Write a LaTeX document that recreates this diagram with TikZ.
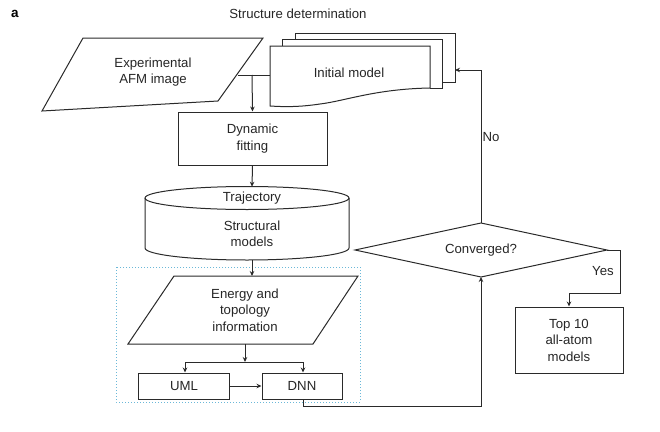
\documentclass[tikz,border=0pt]{standalone}
\usepackage{fontspec}
\setmainfont{Liberation Sans}
\usetikzlibrary{arrows.meta}
\definecolor{ln}{HTML}{2A2A2A}
\definecolor{dotblue}{HTML}{6BB8D8}
\begin{document}
\begin{tikzpicture}[x=1pt,y=-1pt,line width=1pt,
  lbl/.style={font=\fontsize{13.2}{16.5}\selectfont, align=center, text=black!85, inner sep=0pt},
  ln/.style={draw=ln, line width=1pt},
  arr/.style={ln, -{Stealth[length=5pt,width=4.5pt]}},
  rbox/.style={draw=ln, line width=1pt, inner sep=0pt, lbl}]
\useasboundingbox (0,0) rectangle (660,431);
% panel label and title
\node[font=\fontsize{13.5}{15}\selectfont\bfseries, inner sep=0pt] (pa) at (15,14) {a};
\node[lbl] (title) at (298,14) {Structure determination};
% experimental AFM image
\draw[ln] (83,38) -- (263,38) -- (218,101) -- (42,111) -- cycle;
\node[lbl] (afm) at (153,72) {Experimental\\AFM image};
\coordinate (afmr) at (238,75);
% initial model stack
\draw[ln] (295,39) -- (295,33) -- (455,33) -- (455,82) -- (442,82);
\draw[ln] (282,46) -- (282,39) -- (442,39) -- (442,88) -- (430,88);
\draw[ln, fill=white] (270,46) -- (430,46) -- (430,88) .. controls (375,89) and (345,101) .. (320,104) .. controls (300,107) and (285,107) .. (270,106) -- cycle;
\node[lbl] (init) at (349,73) {Initial model};
\coordinate (initl) at (270,75);
\coordinate (stackr) at (455,70);
\coordinate (junc) at (252,75);
% dynamic fitting
\node[rbox, minimum width=149pt, minimum height=53pt] (dyn) at (252.5,138.5) {Dynamic\\fitting};
% cylinder
\draw[ln] (145,198) -- (145,248) arc[start angle=180,end angle=0,x radius=102,y radius=12] -- (349,198);
\draw[ln] (247,198) ellipse[x radius=102,y radius=11.5];
\coordinate (cyltop) at (252,186.7);
\coordinate (cylbot) at (252,259.8);
\node[lbl] (traj) at (252,198) {Trajectory};
\node[lbl] (struct) at (252,234) {Structural\\models};
% dotted container
\draw[dotblue, line width=1pt, dotted] (116,267) rectangle (360,402);
% energy parallelogram
\draw[ln] (174,276) -- (358,276) -- (313,344) -- (128,344) -- cycle;
\node[lbl] (energy) at (245,310) {Energy and\\topology\\information};
\coordinate (entop) at (252,276);
\coordinate (enbot) at (245,344);
\coordinate (branch) at (245,362);
\coordinate (bl) at (185,362);
\coordinate (br) at (303,362);
% UML / DNN
\node[rbox, minimum width=91pt, minimum height=26pt] (uml) at (184,386) {UML};
\node[rbox, minimum width=80pt, minimum height=26pt] (dnn) at (302,386) {DNN};
\coordinate (dnnout) at (303,406);
% diamond
\coordinate (dl) at (355,250);
\coordinate (dt) at (481,223);
\coordinate (dr) at (607,250);
\coordinate (db) at (481,277);
\draw[ln] (dl) -- (dt) -- (dr) -- (db) -- cycle;
\node[lbl] (conv) at (481,250) {Converged?};
% top 10
\node[rbox, minimum width=108pt, minimum height=66pt] (top) at (569,340) {Top 10\\all-atom\\models};
\coordinate (yescorner) at (620,293);
% connectors
\draw[ln] (afmr) -- (initl);
\draw[arr] (junc) -- (dyn.north);
\draw[arr] (dyn.south) -- (cyltop);
\draw[arr] (cylbot) -- (entop);
\draw[arr] (enbot) -- (branch);
\draw[ln] (bl) -- (br);
\draw[arr] (bl) -- (bl |- uml.north);
\draw[arr] (br) -- (br |- dnn.north);
\draw[arr] (uml.east) -- (dnn.west);
\draw[arr] (dnn.south -| dnnout) -- (dnnout) -| (db);
\draw[arr] (dt) -- (dt |- stackr) -- (stackr);
\draw[arr] (dr) -| (yescorner) -| (top.north);
\node[lbl] (no) at (491,137) {No};
\node[lbl] (yes) at (603,271) {Yes};
\end{tikzpicture}
\end{document}
